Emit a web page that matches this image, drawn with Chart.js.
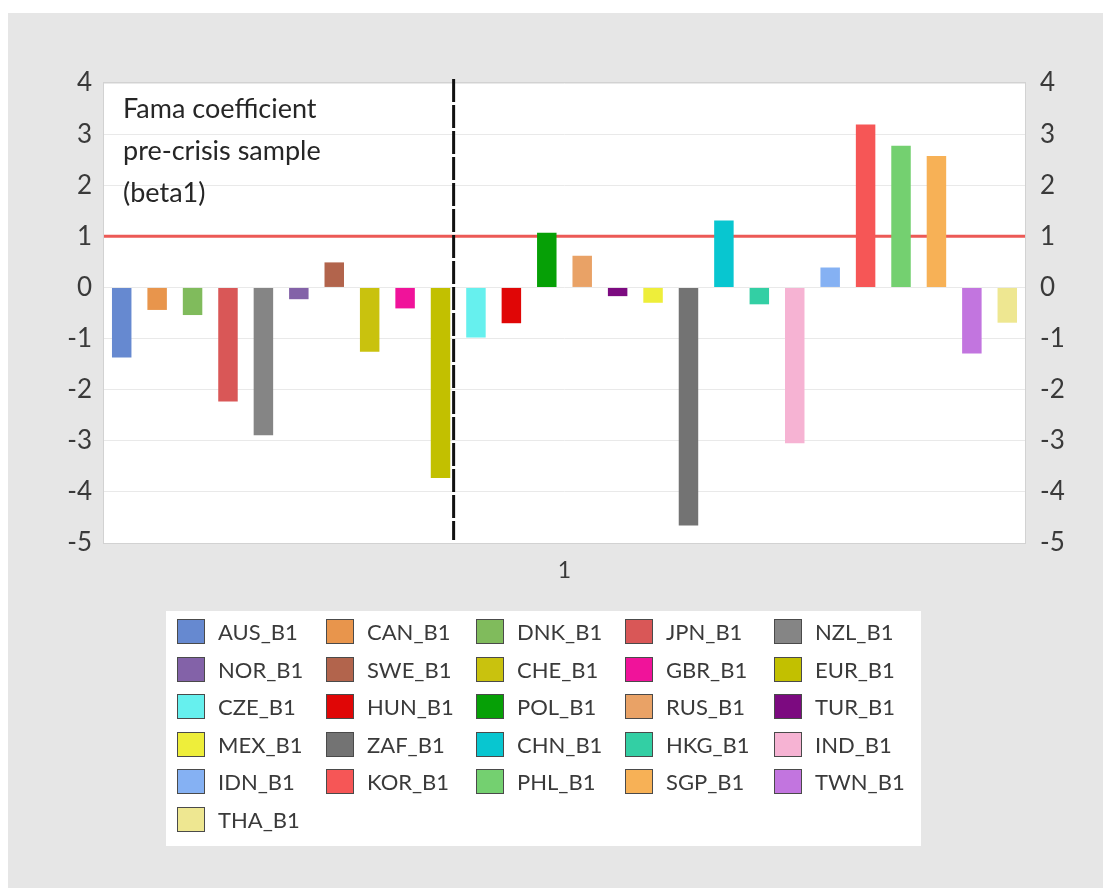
<!DOCTYPE html>
<html>
<head>
<meta charset="utf-8">
<script src="https://cdn.jsdelivr.net/npm/chart.js@4.4.1/dist/chart.umd.min.js"></script>
<style>
  html, body { margin: 0; padding: 0; background: #ffffff; }
  #wrap { width: 1103px; height: 895px; position: relative; }
</style>
</head>
<body>
<div id="wrap"><canvas id="fama" width="1103" height="895"></canvas></div>
<script>
// ---- data ----
const categories = ['1'];

const seriesNames = [
  'AUS_B1', 'CAN_B1', 'DNK_B1', 'JPN_B1', 'NZL_B1',
  'NOR_B1', 'SWE_B1', 'CHE_B1', 'GBR_B1', 'EUR_B1',
  'CZE_B1', 'HUN_B1', 'POL_B1', 'RUS_B1', 'TUR_B1',
  'MEX_B1', 'ZAF_B1', 'CHN_B1', 'HKG_B1', 'IND_B1',
  'IDN_B1', 'KOR_B1', 'PHL_B1', 'SGP_B1', 'TWN_B1',
  'THA_B1'
];

// beta1 estimates, pre-crisis sample
const betaValues = [
  -1.37, -0.44, -0.54, -2.23, -2.89,
  -0.23,  0.49, -1.26, -0.41, -3.73,
  -0.98, -0.70,  1.07,  0.62, -0.17,
  -0.30, -4.66,  1.31, -0.33, -3.05,
   0.39,  3.19,  2.77,  2.57, -1.29,
  -0.69
];

const seriesColors = [
  '#6689d0', '#e8954c', '#80bb5c', '#d95757', '#858585',
  '#8362a8', '#b2644c', '#c9c20e', '#f0139a', '#c2c000',
  '#66f0ee', '#e00606', '#06a006', '#e9a266', '#7c0a80',
  '#eeee3a', '#737373', '#08c6d0', '#33cfa4', '#f6b3d3',
  '#85b1f3', '#f65656', '#74d070', '#f7b156', '#c275df',
  '#eee791'
];

const yTickValues = [4, 3, 2, 1, 0, -1, -2, -3, -4, -5];
const parityLevel = 1;          // beta1 = 1 reference
const splitSlot = 9.87;         // divider between advanced and emerging currencies (in bar slots)
const splitTop = 4.08, splitBottom = -4.94;

// ---- plugins ----
const panelBackground = {
  id: 'panelBackground',
  beforeDraw(chart, _args, o) {
    const ctx = chart.ctx, a = chart.chartArea;
    ctx.save();
    ctx.fillStyle = '#ffffff';
    ctx.fillRect(0, 0, chart.width, chart.height);
    ctx.fillStyle = o.color;
    ctx.fillRect(o.left, o.top, o.right - o.left, o.bottom - o.top);
    ctx.fillStyle = '#ffffff';
    ctx.fillRect(a.left, a.top, a.right - a.left, a.bottom - a.top);
    ctx.restore();
  },
  beforeDatasetsDraw(chart, _args, o) {
    const ctx = chart.ctx, a = chart.chartArea;
    ctx.save();
    ctx.strokeStyle = o.frame;
    ctx.lineWidth = 1;
    ctx.strokeRect(Math.round(a.left) - 0.5, Math.round(a.top) - 0.5,
                   Math.round(a.right - a.left) + 1, Math.round(a.bottom - a.top) + 1);
    ctx.restore();
  }
};

// Horizontal parity line (behind the bars) and the dashed group divider (on top).
const referenceLines = {
  id: 'referenceLines',
  beforeDatasetsDraw(chart, _args, o) {
    const ctx = chart.ctx, a = chart.chartArea, y = chart.scales.y;
    const py = y.getPixelForValue(o.level);
    ctx.save();
    ctx.strokeStyle = o.levelColor;
    ctx.lineWidth = o.levelWidth;
    ctx.beginPath();
    ctx.moveTo(a.left, py);
    ctx.lineTo(a.right, py);
    ctx.stroke();
    ctx.restore();
  },
  afterDatasetsDraw(chart, _args, o) {
    const ctx = chart.ctx, x = chart.scales.x, y = chart.scales.y;
    const slots = chart.data.datasets.length;
    const px = x.getPixelForValue(-0.5 + o.split / slots);
    ctx.save();
    ctx.strokeStyle = o.splitColor;
    ctx.lineWidth = o.splitWidth;
    ctx.setLineDash(o.splitDash);
    ctx.beginPath();
    ctx.moveTo(px, y.getPixelForValue(o.splitTop));
    ctx.lineTo(px, y.getPixelForValue(o.splitBottom));
    ctx.stroke();
    ctx.restore();
  }
};

const cornerNote = {
  id: 'cornerNote',
  afterDatasetsDraw(chart, _args, o) {
    const ctx = chart.ctx, a = chart.chartArea;
    ctx.save();
    ctx.font = o.font;
    ctx.fillStyle = o.color;
    ctx.textBaseline = 'alphabetic';
    o.lines.forEach((line, i) => {
      ctx.fillText(line, a.left + o.dx, a.top + o.dy + i * o.lineHeight);
    });
    ctx.restore();
  }
};

const gridLegend = {
  id: 'gridLegend',
  afterDraw(chart, _args, o) {
    const ctx = chart.ctx;
    ctx.save();
    ctx.fillStyle = o.background;
    ctx.fillRect(o.left, o.top, o.width, o.height);
    ctx.font = o.font;
    ctx.textBaseline = 'middle';
    chart.data.datasets.forEach((ds, k) => {
      const col = k % o.columns, row = Math.floor(k / o.columns);
      const x = Math.round(o.left + o.padX + col * o.colWidth);
      const cy = Math.round(o.top + o.padY + row * o.rowHeight);
      const by = cy - Math.round(o.boxH / 2);
      ctx.fillStyle = ds.backgroundColor;
      ctx.fillRect(x, by, o.boxW, o.boxH);
      ctx.strokeStyle = o.boxBorder;
      ctx.lineWidth = 1;
      ctx.strokeRect(x + 0.5, by + 0.5, o.boxW - 1, o.boxH - 1);
      ctx.fillStyle = o.color;
      ctx.fillText(ds.label, x + o.boxW + o.gap, cy + 1);
    });
    ctx.restore();
  }
};

// ---- datasets ----
const datasets = seriesNames.map((name, i) => ({
  label: name,
  data: [betaValues[i]],
  backgroundColor: seriesColors[i],
  borderWidth: 0,
  categoryPercentage: 1.0,
  barPercentage: 0.55
}));

const tickFont = { family: 'Lato', size: 26 };
const tickColor = '#3a3a3a';
const tickLabel = (v) => (yTickValues.includes(v) ? String(v) : '');

new Chart(document.getElementById('fama'), {
  type: 'bar',
  data: { labels: categories, datasets },
  options: {
    responsive: false,
    animation: false,
    devicePixelRatio: 1,
    layout: { padding: { top: 83, left: 0, right: 0, bottom: 0 } },
    scales: {
      x: {
        position: 'bottom',
        grid: { display: false, drawTicks: false },
        border: { display: false },
        ticks: { font: { family: 'Lato', size: 23 }, color: tickColor, padding: 14 },
        afterFit(s) { s.height = 352; }
      },
      y: {
        position: 'left',
        min: -5,
        max: 4,
        grid: { color: '#e9e9e9', lineWidth: 1, drawTicks: false },
        border: { display: false },
        ticks: { stepSize: 1, font: tickFont, color: tickColor, padding: 12, callback: tickLabel },
        afterFit(s) { s.width = 104; }
      },
      y2: {
        position: 'right',
        min: -5,
        max: 4,
        grid: { display: false, drawTicks: false },
        border: { display: false },
        ticks: { stepSize: 1, font: tickFont, color: tickColor, padding: 15, callback: tickLabel },
        afterFit(s) { s.width = 78; }
      }
    },
    plugins: {
      legend: { display: false },
      tooltip: { enabled: false },
      panelBackground: { color: '#e6e6e6', left: 8, top: 13, right: 1103, bottom: 888, frame: '#d2d2d2' },
      referenceLines: {
        level: parityLevel, levelColor: '#ec5a56', levelWidth: 3,
        split: splitSlot, splitTop: splitTop, splitBottom: splitBottom,
        splitColor: '#111111', splitWidth: 3, splitDash: [23, 3]
      },
      cornerNote: {
        lines: ['Fama coefficient', 'pre-crisis sample', '(beta1)'],
        font: '27px Lato',
        color: '#262626',
        dx: 19,
        dy: 35,
        lineHeight: 42
      },
      gridLegend: {
        left: 166, top: 611, width: 755, height: 235,
        background: '#ffffff',
        columns: 5, colWidth: 149.3, rowHeight: 37.6,
        padX: 11, padY: 21,
        boxW: 28, boxH: 25, gap: 13,
        boxBorder: '#4a4a4a',
        font: '22px Lato',
        color: '#3a3a3a'
      }
    }
  },
  plugins: [panelBackground, referenceLines, cornerNote, gridLegend]
});
</script>
</body>
</html>
